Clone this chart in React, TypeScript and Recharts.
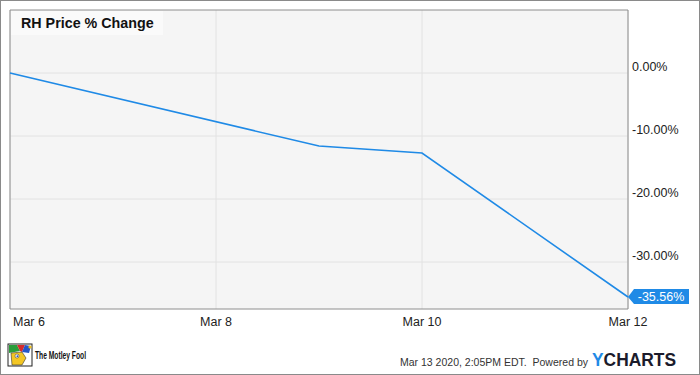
import {
  LineChart,
  Line,
  XAxis,
  YAxis,
  CartesianGrid,
  ReferenceArea,
  ReferenceDot
} from 'recharts';

const days = [6, 9, 10, 12];
const changes = [0, -11.6, -12.7, -35.56];
const xTicks = [6, 8, 10, 12];
const yTicks = [0, -10, -20, -30];
const monthLabel = 'Mar';
const title = 'RH Price % Change';
const stamp = 'Mar 13 2020, 2:05PM EDT.  Powered by';

const data = days.map((d, i) => ({ day: d, change: changes[i] }));
const lastDay = days[days.length - 1];
const lastChange = changes[changes.length - 1];

const FONT = '"Liberation Sans", Arial, sans-serif';
const BLUE = '#1f8ae6';
const BORDER = '#8e8e8e';

function XTick(props: any) {
  const { x, y, payload, index } = props;
  const first = index === 0;
  return (
    <text
      x={first ? x + 3 : x}
      y={y + 13}
      dy='0.35em'
      textAnchor={first ? 'start' : 'middle'}
      fontFamily={FONT}
      fontSize={12.5}
      fill='#222'
    >
      {`${monthLabel} ${payload.value}`}
    </text>
  );
}

function YTick(props: any) {
  const { x, y, payload } = props;
  return (
    <text x={x} y={y - 6} dy='0.35em' textAnchor='start' fontFamily={FONT} fontSize={12.5} fill='#222'>
      {`${payload.value.toFixed(2)}%`}
    </text>
  );
}

function EndTag(props: any) {
  const { cx, cy } = props;
  if (cx == null || cy == null) return <g />;
  const path = `M${cx},${cy} L${cx + 6},${cy - 8} L${cx + 61},${cy - 8} L${cx + 61},${cy + 7} L${cx + 6},${cy + 7} Z`;
  return (
    <g>
      <path d={path} fill={BLUE} />
      <text x={cx + 33} y={cy} dy='0.35em' textAnchor='middle' fontFamily={FONT} fontSize={12.5} fill='#fff'>
        {`${lastChange.toFixed(2)}%`}
      </text>
    </g>
  );
}

function Footer() {
  return (
    <svg width={700} height={45} style={{ position: 'absolute', left: 0, top: 330 }}>
      <g transform='translate(8,344)' />
      <g transform='translate(8,14)'>
        <rect x={0} y={0} width={24} height={22} fill='#fff' stroke='#222' strokeWidth={1} />
        <path d='M1,1 L9,1 L12,7 L1,9 Z' fill='#2a9d3a' />
        <path d='M9,1 L17,1 L14,8 L12,7 Z' fill='#d62c2c' />
        <path d='M17,1 L23,2 L21,9 L14,8 Z' fill='#2456c8' />
        <circle cx={22} cy={3} r={1.6} fill='#f2c11a' />
        <path d='M3,9 L14,8 L18,14 L14,21 L4,21 Z' fill='#f3c624' stroke='#333' strokeWidth={0.6} />
        <circle cx={9} cy={12} r={2} fill='#fff' stroke='#333' strokeWidth={0.5} />
        <circle cx={9.4} cy={12.2} r={0.9} fill='#2456c8' />
      </g>
      <text
        x={35}
        y={25}
        dy='0.35em'
        fontFamily={FONT}
        fontWeight='bold'
        fontSize={10}
        textLength={51}
        lengthAdjust='spacingAndGlyphs'
        fill='#111'
      >
        The Motley Fool
      </text>
      <text
        x={400}
        y={32}
        dy='0.35em'
        fontFamily={FONT}
        fontSize={10.5}
        textLength={188}
        lengthAdjust='spacingAndGlyphs'
        fill='#333'
        style={{ whiteSpace: 'pre' }}
      >
        {stamp}
      </text>
      <text x={592} y={30} dy='0.35em' fontFamily={FONT} fontWeight='bold' fontSize={17.5} textLength={84} lengthAdjust='spacingAndGlyphs'>
        <tspan fill={BLUE}>Y</tspan>
        <tspan fill='#1b1b2b'>CHARTS</tspan>
      </text>
    </svg>
  );
}

export default function App() {
  return (
    <div style={{ position: 'relative', width: 700, height: 375, background: '#fff', overflow: 'hidden' }}>
      <style>{'body{margin:0}'}</style>
      <LineChart width={700} height={335} data={data} margin={{ top: 10, right: 0, left: 10, bottom: 0 }}>
        <CartesianGrid
          fill='#f5f5f5'
          stroke='#e2e2e2'
          verticalValues={xTicks}
          horizontalValues={yTicks}
        />
        <XAxis
          dataKey='day'
          type='number'
          domain={[6, 12]}
          ticks={xTicks}
          height={26}
          tickSize={0}
          tickMargin={0}
          axisLine={false}
          tickLine={false}
          tick={<XTick />}
          interval={0}
        />
        <YAxis
          orientation='right'
          type='number'
          domain={[-37.46, 10]}
          ticks={yTicks}
          width={72}
          tickSize={0}
          tickMargin={4}
          axisLine={false}
          tickLine={false}
          tick={<YTick />}
          interval={0}
        />
        <ReferenceArea x1={6} x2={12} y1={-37.46} y2={10} fill='none' stroke={BORDER} strokeWidth={1} />
        <Line
          type='linear'
          dataKey='change'
          stroke={BLUE}
          strokeWidth={1.6}
          dot={false}
          activeDot={false}
          isAnimationActive={false}
        />
        <ReferenceDot x={lastDay} y={lastChange} r={0} shape={<EndTag />} />
      </LineChart>
      <div
        style={{
          position: 'absolute',
          left: 11,
          top: 11,
          width: 152,
          height: 24,
          background: '#fafafa',
          fontFamily: FONT,
          fontWeight: 'bold',
          fontSize: 14.3,
          lineHeight: '24px',
          paddingLeft: 10,
          boxSizing: 'border-box',
          color: '#111'
        }}
      >
        {title}
      </div>
      <Footer />
      <div
        style={{
          position: 'absolute',
          inset: 0,
          border: '1px solid #8a8a8a',
          pointerEvents: 'none'
        }}
      />
    </div>
  );
}
